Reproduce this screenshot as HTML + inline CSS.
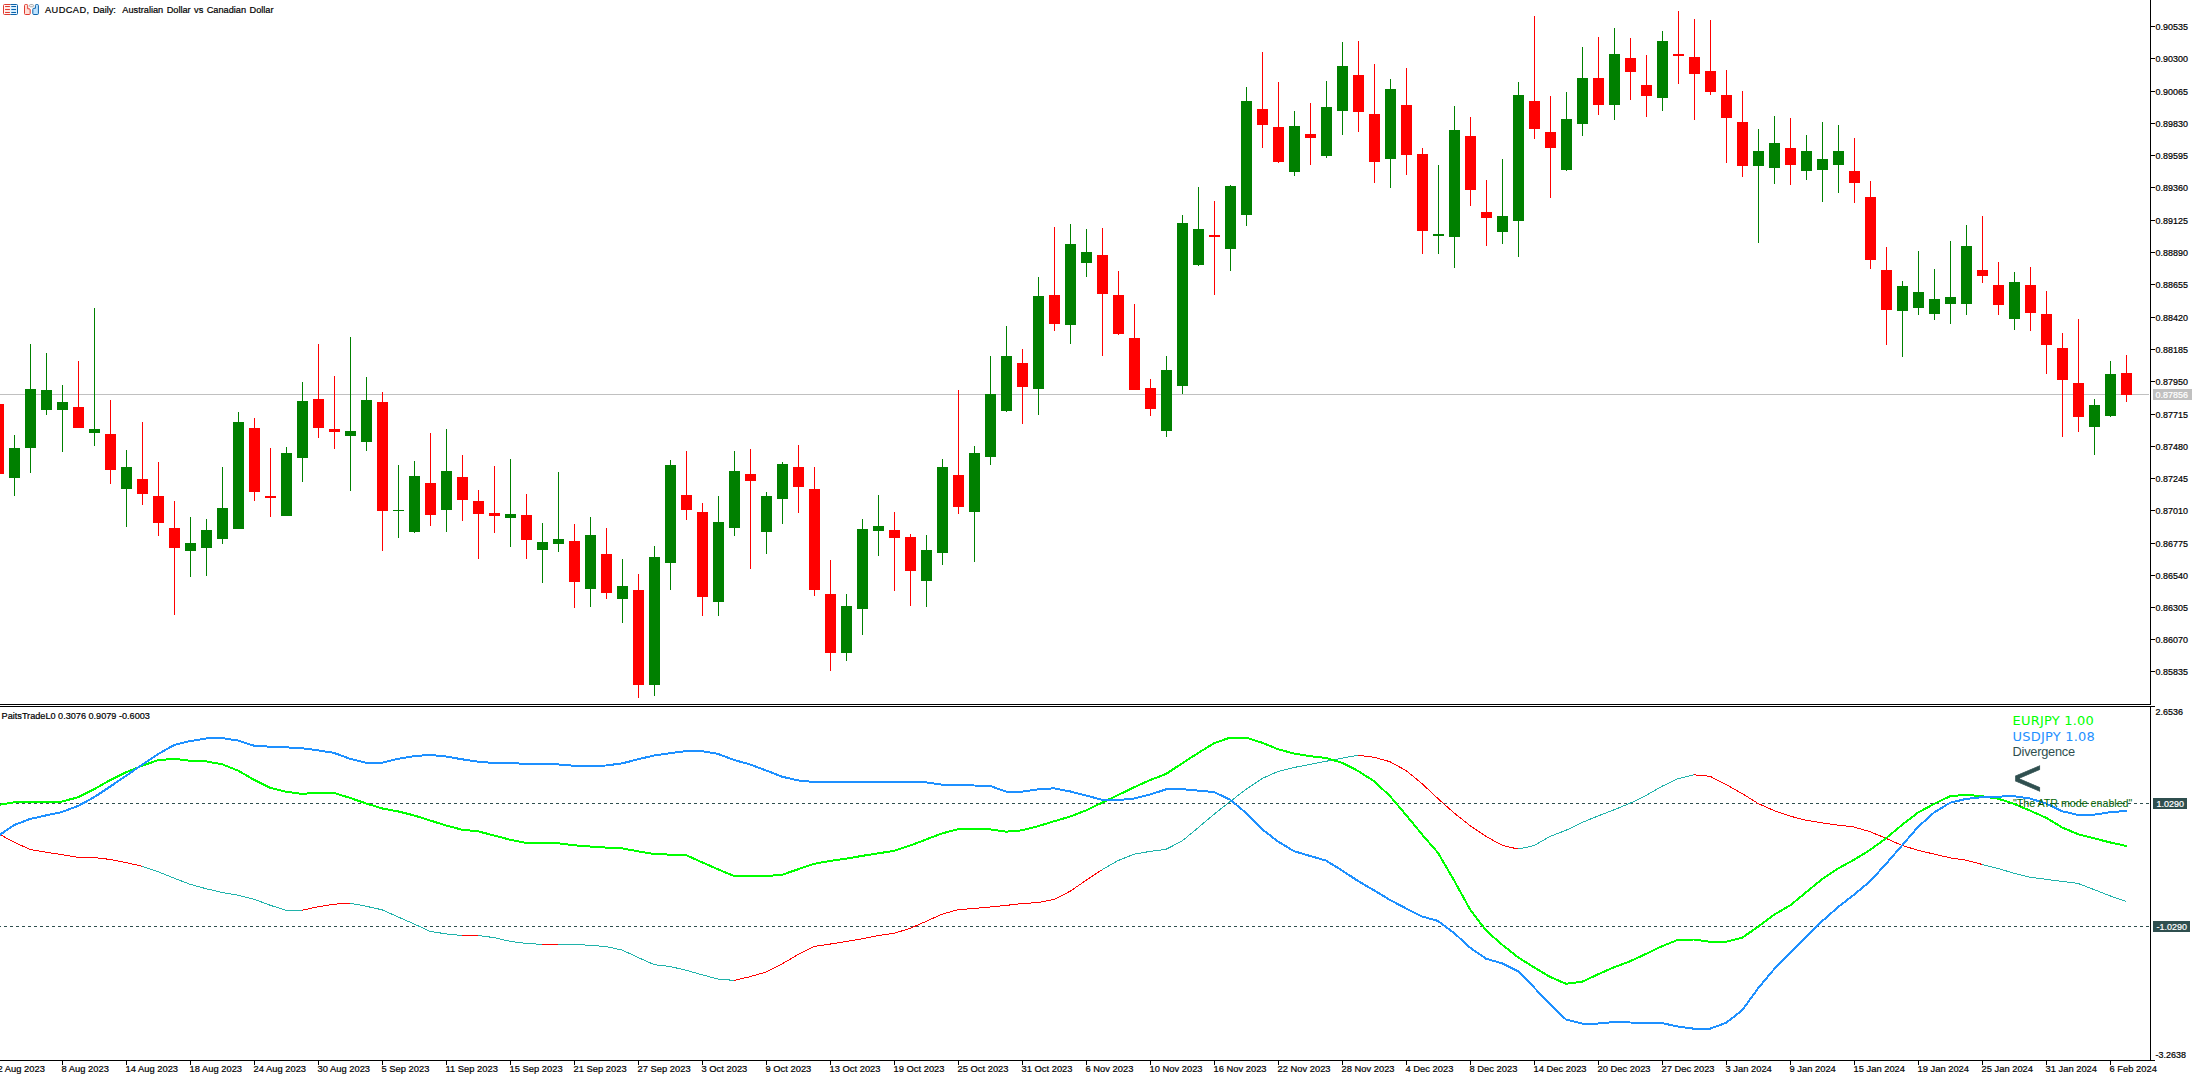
<!DOCTYPE html><html><head><meta charset="utf-8"><title>AUDCAD, Daily</title><style>
html,body{margin:0;padding:0;background:#fff}body{width:2192px;height:1075px;position:relative;overflow:hidden;font-family:"Liberation Sans",sans-serif;color:#000}
.t{position:absolute;white-space:nowrap;line-height:1}.s{-webkit-text-stroke:0.2px currentColor;transform:scaleY(1.05);transform-origin:0 84.65%}
.ax{font-size:8.95px;left:2155.6px}
.tm{font-size:9.37px;top:1065.47px}
.bx{position:absolute;height:11px;left:2153px}
.w{color:#fff}
</style></head><body>
<svg width="2192" height="1075" viewBox="0 0 2192 1075" shape-rendering="crispEdges" style="position:absolute;left:0;top:0">
<rect x="0" y="394" width="2149" height="1" fill="#c0c0c0"/>
<path fill="#008000" d="M14 435h1V496h-1zM9 448h11V478h-11zM30 344h1V473h-1zM25 389h11V448h-11zM46 353h1V415h-1zM41 390h11V410h-11zM62 385h1V452h-1zM57 402h11V410h-11zM94 308h1V446h-1zM89 429h11V433h-11zM126 450h1V527h-1zM121 467h11V489h-11zM190 517h1V577h-1zM185 543h11V551h-11zM206 519h1V576h-1zM201 530h11V548h-11zM222 467h1V544h-1zM217 508h11V539h-11zM238 412h1V529h-1zM233 422h11V529h-11zM286 447h1V516h-1zM281 453h11V516h-11zM302 382h1V482h-1zM297 401h11V458h-11zM350 337h1V491h-1zM345 431h11V436h-11zM366 377h1V451h-1zM361 400h11V442h-11zM398 465h1V538h-1zM393 510h11V511h-11zM414 461h1V533h-1zM409 476h11V532h-11zM446 429h1V532h-1zM441 471h11V510h-11zM510 459h1V547h-1zM505 514h11V518h-11zM542 523h1V583h-1zM537 542h11V550h-11zM558 472h1V552h-1zM553 539h11V544h-11zM590 517h1V607h-1zM585 535h11V589h-11zM622 559h1V623h-1zM617 586h11V599h-11zM654 546h1V696h-1zM649 557h11V685h-11zM670 460h1V590h-1zM665 465h11V563h-11zM718 496h1V616h-1zM713 522h11V602h-11zM734 451h1V536h-1zM729 471h11V528h-11zM766 492h1V554h-1zM761 496h11V532h-11zM782 462h1V524h-1zM777 464h11V499h-11zM846 594h1V661h-1zM841 606h11V653h-11zM862 519h1V635h-1zM857 529h11V609h-11zM878 495h1V556h-1zM873 526h11V531h-11zM926 535h1V607h-1zM921 550h11V581h-11zM942 459h1V565h-1zM937 467h11V553h-11zM974 446h1V562h-1zM969 453h11V512h-11zM990 356h1V465h-1zM985 394h11V457h-11zM1006 326h1V412h-1zM1001 356h11V411h-11zM1038 277h1V415h-1zM1033 296h11V389h-11zM1070 224h1V344h-1zM1065 244h11V325h-11zM1086 229h1V277h-1zM1081 252h11V263h-11zM1166 356h1V437h-1zM1161 370h11V431h-11zM1182 215h1V394h-1zM1177 223h11V386h-11zM1198 187h1V266h-1zM1193 229h11V265h-11zM1230 185h1V271h-1zM1225 186h11V249h-11zM1246 87h1V226h-1zM1241 101h11V215h-11zM1294 111h1V176h-1zM1289 126h11V172h-11zM1326 81h1V158h-1zM1321 107h11V156h-11zM1342 42h1V135h-1zM1337 66h11V111h-11zM1390 79h1V188h-1zM1385 89h11V159h-11zM1438 165h1V254h-1zM1433 234h11V236h-11zM1454 106h1V268h-1zM1449 130h11V237h-11zM1502 159h1V244h-1zM1497 216h11V232h-11zM1518 82h1V257h-1zM1513 95h11V221h-11zM1566 92h1V171h-1zM1561 119h11V170h-11zM1582 47h1V136h-1zM1577 78h11V124h-11zM1614 28h1V120h-1zM1609 54h11V105h-11zM1662 31h1V111h-1zM1657 41h11V98h-11zM1758 129h1V243h-1zM1753 151h11V166h-11zM1774 116h1V184h-1zM1769 143h11V168h-11zM1806 135h1V180h-1zM1801 151h11V171h-11zM1822 122h1V202h-1zM1817 159h11V170h-11zM1838 125h1V193h-1zM1833 151h11V165h-11zM1902 281h1V357h-1zM1897 286h11V311h-11zM1918 251h1V315h-1zM1913 292h11V308h-11zM1934 269h1V320h-1zM1929 299h11V314h-11zM1950 241h1V324h-1zM1945 297h11V304h-11zM1966 225h1V315h-1zM1961 246h11V304h-11zM2014 272h1V330h-1zM2009 282h11V319h-11zM2094 399h1V455h-1zM2089 405h11V427h-11zM2110 361h1V417h-1zM2105 374h11V416h-11z"/>
<path fill="#ff0000" d="M-2 404h1V474h-1zM-7 404h11V474h-11zM78 361h1V428h-1zM73 407h11V428h-11zM110 400h1V484h-1zM105 434h11V470h-11zM142 422h1V505h-1zM137 479h11V494h-11zM158 462h1V536h-1zM153 496h11V523h-11zM174 501h1V615h-1zM169 528h11V548h-11zM254 418h1V501h-1zM249 428h11V492h-11zM270 448h1V517h-1zM265 496h11V498h-11zM318 344h1V438h-1zM313 399h11V428h-11zM334 376h1V449h-1zM329 429h11V432h-11zM382 392h1V551h-1zM377 402h11V511h-11zM430 433h1V526h-1zM425 483h11V515h-11zM462 455h1V521h-1zM457 477h11V500h-11zM478 490h1V559h-1zM473 501h11V514h-11zM494 466h1V533h-1zM489 513h11V516h-11zM526 494h1V559h-1zM521 515h11V540h-11zM574 524h1V608h-1zM569 541h11V582h-11zM606 528h1V599h-1zM601 554h11V593h-11zM638 574h1V698h-1zM633 590h11V685h-11zM686 451h1V520h-1zM681 495h11V510h-11zM702 503h1V616h-1zM697 512h11V597h-11zM750 449h1V569h-1zM745 474h11V481h-11zM798 445h1V513h-1zM793 467h11V487h-11zM814 467h1V596h-1zM809 489h11V590h-11zM830 560h1V671h-1zM825 594h11V653h-11zM894 512h1V591h-1zM889 530h11V538h-11zM910 534h1V606h-1zM905 537h11V571h-11zM958 390h1V514h-1zM953 475h11V507h-11zM1022 349h1V424h-1zM1017 363h11V387h-11zM1054 227h1V331h-1zM1049 295h11V324h-11zM1102 228h1V356h-1zM1097 255h11V294h-11zM1118 271h1V335h-1zM1113 295h11V334h-11zM1134 304h1V390h-1zM1129 338h11V390h-11zM1150 379h1V416h-1zM1145 388h11V409h-11zM1214 201h1V295h-1zM1209 235h11V237h-11zM1262 52h1V148h-1zM1257 109h11V125h-11zM1278 82h1V163h-1zM1273 127h11V162h-11zM1310 103h1V165h-1zM1305 134h11V138h-11zM1358 41h1V132h-1zM1353 75h11V112h-11zM1374 64h1V183h-1zM1369 114h11V162h-11zM1406 68h1V175h-1zM1401 105h11V155h-11zM1422 148h1V254h-1zM1417 154h11V231h-11zM1470 117h1V206h-1zM1465 136h11V190h-11zM1486 180h1V246h-1zM1481 212h11V218h-11zM1534 16h1V139h-1zM1529 101h11V129h-11zM1550 96h1V198h-1zM1545 132h11V148h-11zM1598 37h1V115h-1zM1593 78h11V105h-11zM1630 38h1V100h-1zM1625 58h11V72h-11zM1646 55h1V117h-1zM1641 85h11V96h-11zM1678 11h1V84h-1zM1673 54h11V56h-11zM1694 19h1V120h-1zM1689 57h11V74h-11zM1710 20h1V95h-1zM1705 71h11V92h-11zM1726 70h1V163h-1zM1721 95h11V118h-11zM1742 91h1V177h-1zM1737 122h11V166h-11zM1790 118h1V185h-1zM1785 148h11V165h-11zM1854 138h1V203h-1zM1849 171h11V183h-11zM1870 181h1V269h-1zM1865 197h11V260h-11zM1886 247h1V345h-1zM1881 270h11V310h-11zM1982 216h1V283h-1zM1977 270h11V276h-11zM1998 262h1V315h-1zM1993 285h11V305h-11zM2030 267h1V331h-1zM2025 285h11V313h-11zM2046 291h1V374h-1zM2041 314h11V345h-11zM2062 333h1V437h-1zM2057 348h11V380h-11zM2078 319h1V432h-1zM2073 383h11V417h-11zM2126 355h1V402h-1zM2121 373h11V395h-11z"/>
<path fill="#000" d="M0 704H2151V705H0zM0 706H2155V707H0zM2150 0h1V704h-1zM2150 706h1V1061h-1zM0 1060H2155V1061H0zM2151 26h4v1h-4zM2151 58h4v1h-4zM2151 91h4v1h-4zM2151 123h4v1h-4zM2151 155h4v1h-4zM2151 187h4v1h-4zM2151 220h4v1h-4zM2151 252h4v1h-4zM2151 284h4v1h-4zM2151 317h4v1h-4zM2151 349h4v1h-4zM2151 381h4v1h-4zM2151 414h4v1h-4zM2151 446h4v1h-4zM2151 478h4v1h-4zM2151 510h4v1h-4zM2151 543h4v1h-4zM2151 575h4v1h-4zM2151 607h4v1h-4zM2151 639h4v1h-4zM2151 671h4v1h-4zM62 1061h1v4h-1zM126 1061h1v4h-1zM190 1061h1v4h-1zM254 1061h1v4h-1zM318 1061h1v4h-1zM382 1061h1v4h-1zM446 1061h1v4h-1zM510 1061h1v4h-1zM574 1061h1v4h-1zM638 1061h1v4h-1zM702 1061h1v4h-1zM766 1061h1v4h-1zM830 1061h1v4h-1zM894 1061h1v4h-1zM958 1061h1v4h-1zM1022 1061h1v4h-1zM1086 1061h1v4h-1zM1150 1061h1v4h-1zM1214 1061h1v4h-1zM1278 1061h1v4h-1zM1342 1061h1v4h-1zM1406 1061h1v4h-1zM1470 1061h1v4h-1zM1534 1061h1v4h-1zM1598 1061h1v4h-1zM1662 1061h1v4h-1zM1726 1061h1v4h-1zM1790 1061h1v4h-1zM1854 1061h1v4h-1zM1918 1061h1v4h-1zM1982 1061h1v4h-1zM2046 1061h1v4h-1zM2110 1061h1v4h-1z"/>
<line x1="-2" x2="2150" y1="803.5" y2="803.5" stroke="#2f4f4f" stroke-width="1" stroke-dasharray="3 3"/>
<line x1="-2" x2="2150" y1="926.5" y2="926.5" stroke="#2f4f4f" stroke-width="1" stroke-dasharray="3 3"/>
<polyline fill="none" stroke="#ff0000" stroke-width="1" points="-2,833.5 14,842.1 30,849.4 46,852.2 62,854.6 78,857.4 94,857.6 110,859.4 126,862.6 142,866.2"/>
<polyline fill="none" stroke="#20b2aa" stroke-width="1" points="142,866.2 158,871.7 174,878.1 190,884.3 206,888.7 222,892.4 238,895.2 254,899.2 270,905.2 286,910.2 302,910.2"/>
<polyline fill="none" stroke="#ff0000" stroke-width="1" points="302,910.2 318,906.8 334,904.2 350,903.2"/>
<polyline fill="none" stroke="#20b2aa" stroke-width="1" points="350,903.2 366,906.2 382,909.8 398,916.9 414,923.9 430,931.3 446,933.9 462,935.5"/>
<polyline fill="none" stroke="#ff0000" stroke-width="1" points="462,935.5 478,935.5"/>
<polyline fill="none" stroke="#20b2aa" stroke-width="1" points="478,935.5 494,937.6 510,941.3 526,943.4 542,944.4"/>
<polyline fill="none" stroke="#ff0000" stroke-width="1" points="542,944.4 558,944.4"/>
<polyline fill="none" stroke="#20b2aa" stroke-width="1" points="558,944.4 574,944.4 590,945.3 606,946.5 622,950.0 638,957.4 654,964.6 670,966.5 686,970.2 702,974.8 718,979.0 734,980.4"/>
<polyline fill="none" stroke="#ff0000" stroke-width="1" points="734,980.4 750,976.7 766,972.0 782,963.9 798,954.6 814,946.5 830,944.1 846,941.5 862,938.8 878,935.7 894,933.2 910,928.5 926,921.4 942,914.2 958,909.7 974,908.5 990,907.0 1006,905.4 1022,903.6 1038,902.5 1054,899.5 1070,891.3 1086,880.4 1102,869.8"/>
<polyline fill="none" stroke="#20b2aa" stroke-width="1" points="1102,869.8 1118,860.6 1134,854.2 1150,851.4 1166,849.3 1182,841.1 1198,827.8 1214,814.3 1230,801.6 1246,789.4 1262,778.6 1278,771.4 1294,767.5 1310,764.4 1326,761.3 1342,758.2 1358,755.2"/>
<polyline fill="none" stroke="#ff0000" stroke-width="1" points="1358,755.2 1374,757.2 1390,761.7 1406,770.5 1422,783.6 1438,798.6 1454,812.9 1470,825.6 1486,836.4 1502,845.2 1518,849.1"/>
<polyline fill="none" stroke="#20b2aa" stroke-width="1" points="1518,849.1 1534,845.6 1550,836.4 1566,830.3 1582,822.5 1598,816.0 1614,809.8 1630,803.3 1646,795.5 1662,786.3 1678,778.7 1694,774.8"/>
<polyline fill="none" stroke="#ff0000" stroke-width="1" points="1694,774.8 1710,776.3 1726,784.5 1742,793.5 1758,803.4 1774,810.6 1790,816.1 1806,820.2 1822,822.9 1838,825.1 1854,827.0 1870,831.7 1886,838.3 1902,845.5 1918,850.2 1934,854.1 1950,857.8 1966,860.2 1982,864.4"/>
<polyline fill="none" stroke="#20b2aa" stroke-width="1" points="1982,864.4 1998,868.5 2014,873.2 2030,877.3 2046,879.3 2062,881.4 2078,883.4 2094,889.6 2110,895.8 2126,901.5"/>
<polyline fill="none" stroke="#00ff00" stroke-width="2" stroke-linejoin="round" stroke-linecap="square" points="-2,805.0 14,802.4 30,802.4 46,802.2 62,801.5 78,797.3 94,789.3 110,780.2 126,772.2 142,765.8 158,760.2 174,758.8 190,760.8 206,761.4 222,764.2 238,770.6 254,779.8 270,787.7 286,791.7 302,793.9 318,792.7 334,792.9 350,797.9 366,803.4 382,808.4 398,811.4 414,815.4 430,820.4 446,825.5 462,829.7 478,831.3 494,835.5 510,839.7 526,843.0 542,843.0 558,843.2 574,845.3 590,846.5 606,847.6 622,848.3 638,851.3 654,854.1 670,854.6 686,855.1 702,862.3 718,869.3 734,876.0 750,876.0 766,876.0 782,874.8 798,869.3 814,863.9 830,860.9 846,858.7 862,855.9 878,853.4 894,850.8 910,845.6 926,839.5 942,833.4 958,829.3 974,829.3 990,829.3 1006,831.7 1022,830.3 1038,826.2 1054,821.3 1070,816.6 1086,810.4 1102,802.7 1118,795.1 1134,787.3 1150,780.1 1166,774.0 1182,763.4 1198,753.1 1214,743.3 1230,737.6 1246,737.6 1262,742.7 1278,749.2 1294,753.5 1310,756.2 1326,758.0 1342,762.7 1358,770.9 1374,781.2 1390,796.1 1406,814.9 1422,834.4 1438,852.8 1454,880.2 1470,909.4 1486,930.4 1502,944.6 1518,957.3 1534,967.3 1550,976.9 1566,983.8 1582,981.8 1598,974.3 1614,967.3 1630,961.3 1646,953.9 1662,946.2 1678,939.8 1694,939.5 1710,941.8 1726,941.8 1742,937.8 1758,926.9 1774,914.7 1790,905.5 1806,892.4 1822,879.2 1838,868.5 1854,859.8 1870,850.0 1886,838.3 1902,824.9 1918,812.6 1934,804.0 1950,796.2 1966,794.8 1982,796.2 1998,798.7 2014,803.8 2030,810.6 2046,817.7 2062,827.4 2078,834.2 2094,838.3 2110,842.4 2126,845.9"/>
<polyline fill="none" stroke="#1e90ff" stroke-width="2" stroke-linejoin="round" stroke-linecap="square" points="-2,836.1 14,825.1 30,819.0 46,815.4 62,812.0 78,806.0 94,797.3 110,786.7 126,775.8 142,764.8 158,754.1 174,745.1 190,741.1 206,738.5 222,738.1 238,740.5 254,745.7 270,746.7 286,747.3 302,748.3 318,750.3 334,752.9 350,758.8 366,762.8 382,762.8 398,758.8 414,756.1 430,754.9 446,756.5 462,759.3 478,761.6 494,763.0 510,763.0 526,763.9 542,763.9 558,764.4 574,765.8 590,765.8 606,765.5 622,763.4 638,759.3 654,755.5 670,753.2 686,751.1 702,751.1 718,753.9 734,760.0 750,764.4 766,770.4 782,776.7 798,780.4 814,782.0 830,782.0 846,782.1 862,782.2 878,782.2 894,782.2 910,782.2 926,782.4 942,784.6 958,784.9 974,785.5 990,785.9 1006,791.6 1022,791.6 1038,789.4 1054,788.3 1070,791.4 1086,795.5 1102,799.8 1118,800.0 1134,798.6 1150,794.5 1166,789.4 1182,789.1 1198,790.6 1214,792.0 1230,799.6 1246,812.9 1262,829.1 1278,841.5 1294,851.2 1310,855.9 1326,860.6 1342,870.4 1358,881.0 1374,890.3 1390,900.0 1406,908.4 1422,916.5 1438,920.9 1454,932.9 1470,947.6 1486,958.7 1502,963.3 1518,971.3 1534,987.4 1550,1004.4 1566,1019.5 1582,1023.5 1598,1023.5 1614,1022.1 1630,1022.5 1646,1022.7 1662,1023.1 1678,1026.5 1694,1028.7 1710,1028.7 1726,1022.9 1742,1010.5 1758,988.4 1774,969.3 1790,953.3 1806,937.0 1822,921.3 1838,907.1 1854,894.7 1870,881.4 1886,863.9 1902,845.5 1918,827.0 1934,812.6 1950,802.8 1966,798.9 1982,797.2 1998,796.6 2014,796.2 2030,798.5 2046,803.4 2062,811.2 2078,814.9 2094,814.7 2110,812.2 2126,811.0"/>
</svg>
<svg width="42" height="18" viewBox="0 0 42 18" style="position:absolute;left:0;top:0">
<rect x="4.500" y="5.500" width="5.500" height="8" fill="#ffe9e4"/><rect x="10.500" y="5.500" width="6" height="8" fill="#d4edff"/>
<path d="M10.500 4.500h-6a1 1 0 0 0-1 1v8a1 1 0 0 0 1 1h6" fill="none" stroke="#e03a30"/>
<path d="M10.500 4.500h6a1 1 0 0 1 1 1v8a1 1 0 0 1-1 1h-6" fill="none" stroke="#0a62aa"/>
<path d="M5.500 6.500h4M5.500 9.500h4M5.500 12.500h4" stroke="#e03a30" stroke-linecap="round"/>
<path d="M11.700 6.500h4M11.700 9.500h4M11.700 12.500h4" stroke="#0a62aa" stroke-linecap="round"/>
<path d="M24.500 5.500a1 1 0 0 1 1-1h1.200a1 1 0 0 1 1 1v3.300h1.500a1 1 0 0 1 1 1v3.700a1 1 0 0 1-1 1h-3.700a1 1 0 0 1-1-1z" fill="#ffe0d8" stroke="#e03a30"/>
<path d="M38.400 5.500a1 1 0 0 0-1-1h-1a1 1 0 0 0-1 1v2.800h-1.600a1 1 0 0 0-1 1v4.200a1 1 0 0 0 1 1h3.600a1 1 0 0 0 1-1z" fill="#bfe4ff" stroke="#0a62aa"/>
<rect x="29.600" y="4.600" width="3.800" height="2.200" rx="0.800" fill="#fff" stroke="#9c9c9c" stroke-width="0.900"/>
</svg>
<div class="t s" id="hdr" style="left:45px;top:5.51px;font-size:9.2px;word-spacing:0.9px"><span style="letter-spacing:.45px">AUDCAD,</span> Daily:&nbsp; Australian Dollar vs Canadian Dollar</div>
<div class="t ax s" style="top:22.72px">0.90535</div>
<div class="t ax s" style="top:54.72px">0.90300</div>
<div class="t ax s" style="top:87.72px">0.90065</div>
<div class="t ax s" style="top:119.72px">0.89830</div>
<div class="t ax s" style="top:151.72px">0.89595</div>
<div class="t ax s" style="top:183.72px">0.89360</div>
<div class="t ax s" style="top:216.72px">0.89125</div>
<div class="t ax s" style="top:248.72px">0.88890</div>
<div class="t ax s" style="top:280.72px">0.88655</div>
<div class="t ax s" style="top:313.72px">0.88420</div>
<div class="t ax s" style="top:345.72px">0.88185</div>
<div class="t ax s" style="top:377.72px">0.87950</div>
<div class="t ax s" style="top:410.72px">0.87715</div>
<div class="t ax s" style="top:442.72px">0.87480</div>
<div class="t ax s" style="top:474.72px">0.87245</div>
<div class="t ax s" style="top:506.72px">0.87010</div>
<div class="t ax s" style="top:539.72px">0.86775</div>
<div class="t ax s" style="top:571.72px">0.86540</div>
<div class="t ax s" style="top:603.72px">0.86305</div>
<div class="t ax s" style="top:635.72px">0.86070</div>
<div class="t ax s" style="top:667.72px">0.85835</div>
<div class="bx" style="top:389px;width:39px;background:#c0c0c0"></div>
<div class="t ax w s" style="top:390.92px">0.87856</div>
<div class="t s" id="ind" style="left:1.6px;top:711.75px;font-size:9.15px">PaitsTradeL0 0.3076 0.9079 -0.6003</div>
<div class="t ax s" style="top:707.92px">2.6536</div>
<div class="t ax s" style="top:1051.02px">-3.2638</div>
<div class="bx" style="top:798px;width:34px;background:#2f4f4f"></div>
<div class="t ax w s" style="left:2156.6px;top:799.92px">1.0290</div>
<div class="bx" style="top:921px;width:37px;background:#2f4f4f"></div>
<div class="t ax w s" style="left:2156.6px;top:922.92px">-1.0290</div>
<div class="t tm s" style="left:-2.5px">2 Aug 2023</div>
<div class="t tm s" style="left:61.5px">8 Aug 2023</div>
<div class="t tm s" style="left:125.5px">14 Aug 2023</div>
<div class="t tm s" style="left:189.5px">18 Aug 2023</div>
<div class="t tm s" style="left:253.5px">24 Aug 2023</div>
<div class="t tm s" style="left:317.5px">30 Aug 2023</div>
<div class="t tm s" style="left:381.5px">5 Sep 2023</div>
<div class="t tm s" style="left:445.5px">11 Sep 2023</div>
<div class="t tm s" style="left:509.5px">15 Sep 2023</div>
<div class="t tm s" style="left:573.5px">21 Sep 2023</div>
<div class="t tm s" style="left:637.5px">27 Sep 2023</div>
<div class="t tm s" style="left:701.5px">3 Oct 2023</div>
<div class="t tm s" style="left:765.5px">9 Oct 2023</div>
<div class="t tm s" style="left:829.5px">13 Oct 2023</div>
<div class="t tm s" style="left:893.5px">19 Oct 2023</div>
<div class="t tm s" style="left:957.5px">25 Oct 2023</div>
<div class="t tm s" style="left:1021.5px">31 Oct 2023</div>
<div class="t tm s" style="left:1085.5px">6 Nov 2023</div>
<div class="t tm s" style="left:1149.5px">10 Nov 2023</div>
<div class="t tm s" style="left:1213.5px">16 Nov 2023</div>
<div class="t tm s" style="left:1277.5px">22 Nov 2023</div>
<div class="t tm s" style="left:1341.5px">28 Nov 2023</div>
<div class="t tm s" style="left:1405.5px">4 Dec 2023</div>
<div class="t tm s" style="left:1469.5px">8 Dec 2023</div>
<div class="t tm s" style="left:1533.5px">14 Dec 2023</div>
<div class="t tm s" style="left:1597.5px">20 Dec 2023</div>
<div class="t tm s" style="left:1661.5px">27 Dec 2023</div>
<div class="t tm s" style="left:1725.5px">3 Jan 2024</div>
<div class="t tm s" style="left:1789.5px">9 Jan 2024</div>
<div class="t tm s" style="left:1853.5px">15 Jan 2024</div>
<div class="t tm s" style="left:1917.5px">19 Jan 2024</div>
<div class="t tm s" style="left:1981.5px">25 Jan 2024</div>
<div class="t tm s" style="left:2045.5px">31 Jan 2024</div>
<div class="t tm s" style="left:2109.5px">6 Feb 2024</div>
<div class="t" id="l1" style="left:2012.6px;top:713.9px;font-size:13px;letter-spacing:0.2px;color:#00ff00;font-family:'DejaVu Sans','Liberation Sans',sans-serif">EURJPY 1.00</div>
<div class="t" id="l2" style="left:2012.6px;top:729.8px;font-size:13px;letter-spacing:0.2px;color:#1e90ff;font-family:'DejaVu Sans','Liberation Sans',sans-serif">USDJPY 1.08</div>
<div class="t" id="l3" style="left:2012.6px;top:745.86px;font-size:12.8px;letter-spacing:-0.25px;color:#2f4f4f">Divergence</div>
<div class="t" id="l4" style="left:2013px;top:753px;font-size:50px;color:#2f4f4f;-webkit-text-stroke:0.6px #2f4f4f">&lt;</div>
<div class="t" id="l5" style="left:2013px;top:797.77px;font-size:10.67px;color:#006400">&quot;The ATR mode enabled&quot;</div>
</body></html>
